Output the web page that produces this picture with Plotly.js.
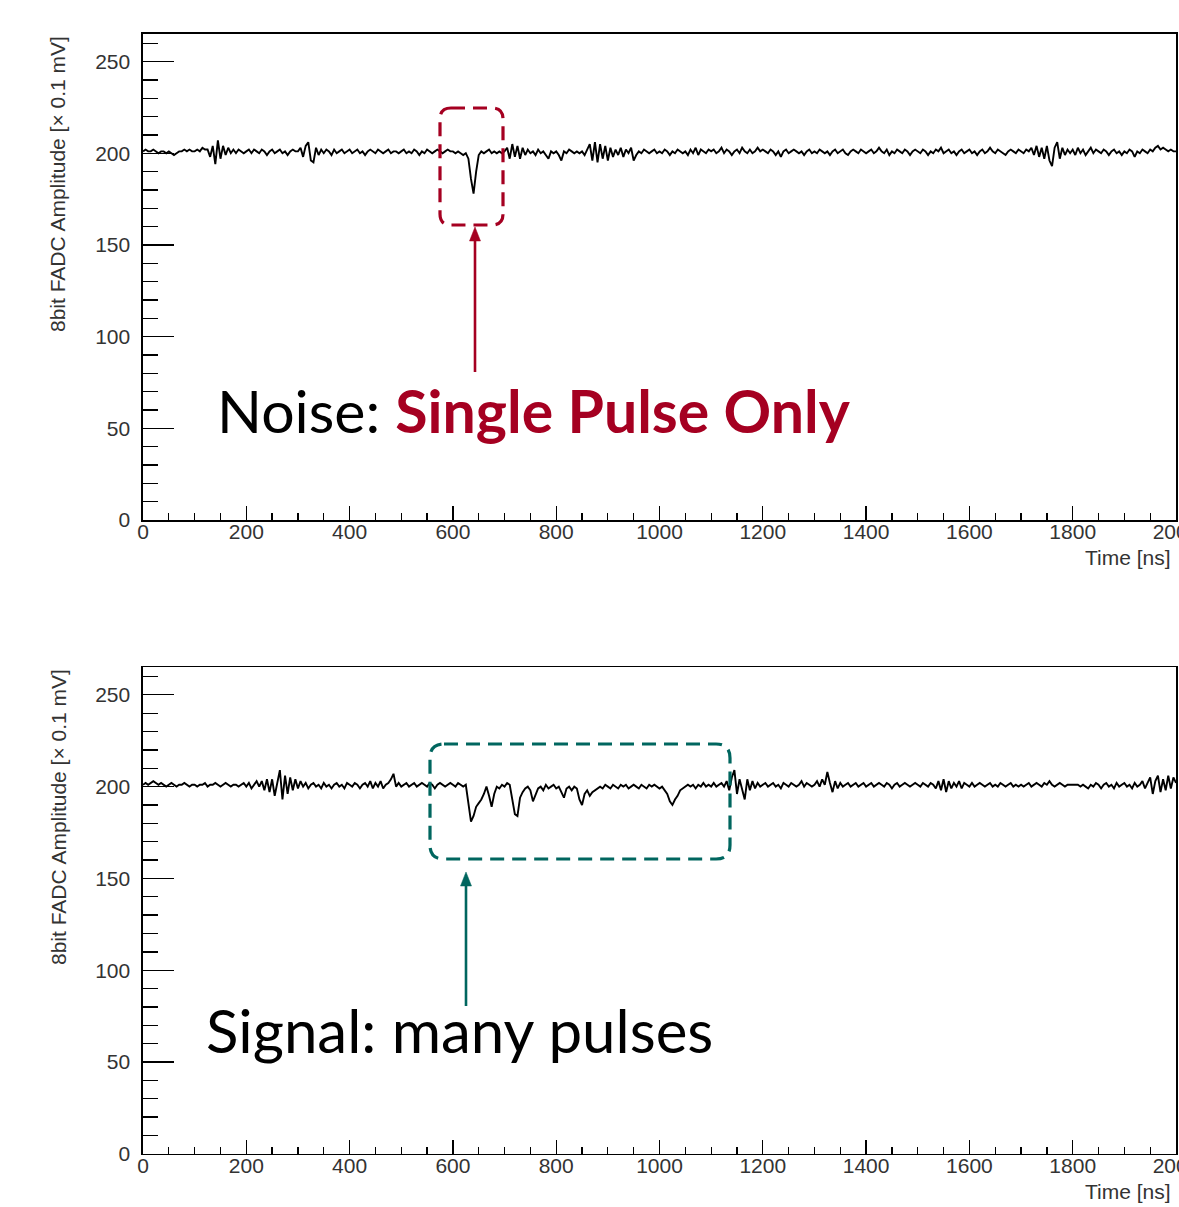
<!DOCTYPE html>
<html>
<head>
<meta charset="utf-8">
<script src="https://cdn.plot.ly/plotly-3.0.1.min.js"></script>
<style>html,body{margin:0;padding:0;background:#fff;}#chart{width:1179px;height:1207px;}</style>
</head>
<body>
<div id="chart"></div>
<script>
// ---------- DATA ----------
const SAMPLE_STEP_NS = 5;          // FADC sample spacing (ns)
// Top waveform: "Noise" event (8bit FADC amplitude, x0.1 mV), one sample every 5 ns from 0 to 2000 ns
const noiseAmp = [
 201,202,201,201,202,201,200,201,201,200,201,200,199,200,201,201,202,201,202,201,
 201,202,201,203,202,202,198,204,194,207,197,204,199,203,200,202,200,202,201,200,
 201,202,200,202,201,200,202,201,199,201,202,200,201,202,200,201,199,201,202,201,
 201,203,198,204,206,196,195,203,199,202,200,202,201,199,202,200,201,202,200,201,
 202,200,201,202,200,201,199,201,202,201,200,202,201,200,201,202,200,201,201,200,
 201,202,200,201,200,202,201,199,201,200,202,201,200,201,202,201,200,201,202,201,
 201,200,201,200,199,200,197,186,178,190,199,201,200,201,202,200,201,200,201,200,
 201,203,197,205,198,204,197,203,199,202,200,201,199,202,200,201,199,197,201,200,
 201,199,196,201,200,202,201,200,201,200,201,199,202,205,196,206,195,205,197,204,
 196,203,198,202,199,203,198,202,200,203,196,199,201,200,202,201,200,201,202,200,
 201,200,202,201,199,201,200,202,201,200,201,199,202,200,203,199,202,201,200,202,
 201,202,200,201,203,200,202,201,199,201,202,200,203,201,200,202,200,201,203,201,
 202,201,200,202,201,199,201,198,201,202,200,201,202,201,200,201,199,201,202,200,
 201,200,202,201,200,201,199,201,202,200,201,202,200,199,201,202,201,200,202,201,
 200,201,202,200,201,203,201,200,202,199,201,200,202,201,200,202,201,199,201,202,
 201,200,202,201,199,201,200,202,201,203,200,201,202,200,201,199,201,202,200,201,
 202,200,201,199,201,202,200,201,203,201,200,202,201,200,199,201,202,201,200,202,
 201,200,202,201,203,199,204,198,203,197,204,196,193,203,206,197,203,199,202,200,
 202,199,203,200,202,199,201,203,200,202,201,200,202,201,199,201,202,200,201,199,
 201,200,202,201,198,201,200,202,201,200,202,201,203,204,202,203,202,201,202,201,
 201
];
// Bottom waveform: "Signal" event
const signalAmp = [
 201,202,201,202,203,202,201,202,201,200,201,202,201,200,201,201,202,201,200,201,
 201,200,201,201,202,200,201,201,202,201,200,201,202,201,200,201,201,200,201,202,
 200,202,199,201,203,200,203,198,204,197,204,195,203,209,193,206,196,205,198,204,
 199,203,200,202,199,201,202,200,201,199,202,200,201,199,201,202,200,201,199,202,
 201,200,202,201,199,201,202,200,203,199,202,200,203,199,201,202,204,207,200,202,
 200,201,202,200,201,202,200,201,202,201,200,202,201,199,201,202,201,200,201,202,
 201,200,202,201,200,201,190,181,184,189,191,193,196,200,195,189,196,200,199,201,
 200,202,201,193,185,184,194,197,199,200,198,192,196,199,200,198,201,199,200,201,
 199,200,197,194,199,200,198,200,199,193,190,196,198,195,197,198,199,200,199,201,
 200,199,201,200,199,201,200,201,199,200,201,200,199,201,200,199,201,200,201,200,
 199,200,198,196,192,190,193,195,198,199,200,201,200,201,199,201,200,202,200,201,
 200,202,200,201,202,200,203,198,205,209,196,204,199,193,204,198,203,199,202,200,
 201,202,200,201,202,200,201,199,202,201,200,202,201,200,201,203,200,202,201,200,
 201,203,200,204,201,208,202,197,203,199,202,200,201,202,200,201,202,200,201,202,
 200,201,202,200,201,202,201,200,202,201,199,201,202,200,201,202,201,200,201,202,
 201,200,202,201,200,202,201,199,203,198,204,197,203,199,202,200,203,199,202,201,
 200,202,200,201,202,201,200,201,202,200,201,200,202,201,200,201,202,200,201,200,
 201,200,201,202,200,201,202,201,200,202,201,203,201,200,201,202,201,200,201,201,
 201,201,201,200,201,200,199,201,200,202,201,199,201,202,200,201,199,202,200,201,
 202,200,201,199,202,200,201,203,199,202,205,196,203,206,197,204,198,206,199,205,
 202
];
const xTitle = "Time [ns]";
const yTitle = "8bit FADC Amplitude [\u00d7 0.1 mV]";
const noiseLabel = "Noise: ";
const noiseHighlight = "Single Pulse Only";
const signalLabel = "Signal: many pulses";

const timeNs = noiseAmp.map((_, i) => i * SAMPLE_STEP_NS);

// ---------- LAYOUT HELPERS ----------
const W = 1179, H = 1207, ML = 143, MR = 3;
const PW = W - ML - MR;
const X = px => (px - ML) / PW;   // pixel -> paper x
const Y = py => 1 - py / H;       // pixel -> paper y

const RED = '#A50021';
const TEAL = '#00665F';
const tickFont = {family: 'Liberation Sans, Arial, Helvetica, sans-serif', size: 21, color: '#333'};

function xAxis(anchor) {
  return {
    anchor: anchor, domain: [0, 1], range: [0, 2000], tick0: 0, dtick: 200,
    ticks: 'inside', ticklen: 14, tickwidth: 1.3, tickcolor: '#000',
    showline: true, linecolor: '#000', linewidth: 1.6, mirror: true,
    showgrid: false, zeroline: false, tickfont: tickFont, ticklabelstandoff: -8,
    ticklabeloverflow: 'allow',
    minor: {dtick: 50, ticks: 'inside', ticklen: 7, tickwidth: 1.3, tickcolor: '#000', showgrid: false},
    fixedrange: true
  };
}
function yAxis(anchor, dom) {
  return {
    anchor: anchor, domain: dom, range: [0, 265], tick0: 0, dtick: 50,
    ticks: 'inside', ticklen: 31, tickwidth: 1.3, tickcolor: '#000',
    showline: true, linecolor: '#000', linewidth: 1.6, mirror: true,
    showgrid: false, zeroline: false, tickfont: tickFont, ticklabelstandoff: 7,
    minor: {dtick: 10, ticks: 'inside', ticklen: 15, tickwidth: 1.3, tickcolor: '#000', showgrid: false},
    fixedrange: true
  };
}

function roundRect(l, t, r, b, rad) {
  const p = (x, y) => X(x).toFixed(5) + ',' + Y(y).toFixed(5);
  return 'M' + p(l + rad, t) + ' L' + p(r - rad, t) + ' Q' + p(r, t) + ' ' + p(r, t + rad) +
         ' L' + p(r, b - rad) + ' Q' + p(r, b) + ' ' + p(r - rad, b) +
         ' L' + p(l + rad, b) + ' Q' + p(l, b) + ' ' + p(l, b - rad) +
         ' L' + p(l, t + rad) + ' Q' + p(l, t) + ' ' + p(l + rad, t) + ' Z';
}
function arrowHead(x, tipY, w, h) {
  const p = (a, b) => X(a).toFixed(5) + ',' + Y(b).toFixed(5);
  return 'M' + p(x, tipY) + ' L' + p(x - w / 2, tipY + h) + ' L' + p(x + w / 2, tipY + h) + ' Z';
}

const traces = [
  {x: timeNs, y: noiseAmp, xaxis: 'x', yaxis: 'y', type: 'scatter', mode: 'lines',
   line: {color: '#000', width: 1.9}, hoverinfo: 'skip'},
  {x: timeNs, y: signalAmp, xaxis: 'x2', yaxis: 'y2', type: 'scatter', mode: 'lines',
   line: {color: '#000', width: 1.9}, hoverinfo: 'skip'}
];

const layout = {
  width: W, height: H, margin: {l: ML, r: MR, t: 0, b: 0},
  paper_bgcolor: '#fff', plot_bgcolor: '#fff', showlegend: false,
  xaxis: xAxis('y'), yaxis: yAxis('x', [Y(520), Y(34)]),
  xaxis2: xAxis('y2'), yaxis2: yAxis('x2', [Y(1153.8), Y(667.3)]),
  shapes: [
    {type: 'path', xref: 'paper', yref: 'paper', path: roundRect(440, 108, 503, 225, 11),
     line: {color: RED, width: 3.2, dash: '14px,8px'}, fillcolor: 'rgba(0,0,0,0)', layer: 'above'},
    {type: 'line', xref: 'paper', yref: 'paper', x0: X(475), x1: X(475), y0: Y(372), y1: Y(238),
     line: {color: RED, width: 2.6}},
    {type: 'path', xref: 'paper', yref: 'paper', path: arrowHead(475, 227, 11, 14),
     line: {color: RED, width: 0.5}, fillcolor: RED},
    {type: 'path', xref: 'paper', yref: 'paper', path: roundRect(430, 744, 730, 859, 14),
     line: {color: TEAL, width: 3.2, dash: '14px,8px'}, fillcolor: 'rgba(0,0,0,0)', layer: 'above'},
    {type: 'line', xref: 'paper', yref: 'paper', x0: X(466), x1: X(466), y0: Y(1006), y1: Y(883),
     line: {color: TEAL, width: 2.6}},
    {type: 'path', xref: 'paper', yref: 'paper', path: arrowHead(466, 872, 11, 14),
     line: {color: TEAL, width: 0.5}, fillcolor: TEAL}
  ],
  annotations: [
    {xref: 'paper', yref: 'paper', x: X(1173), y: Y(544), xanchor: 'right', yanchor: 'top',
     text: xTitle, showarrow: false, font: tickFont},
    {xref: 'paper', yref: 'paper', x: X(1173), y: Y(1178), xanchor: 'right', yanchor: 'top',
     text: xTitle, showarrow: false, font: tickFont},
    {xref: 'paper', yref: 'paper', x: X(58), y: Y(34), xanchor: 'center', yanchor: 'top',
     text: yTitle, textangle: -90, showarrow: false, font: tickFont},
    {xref: 'paper', yref: 'paper', x: X(58), y: Y(667), xanchor: 'center', yanchor: 'top',
     text: yTitle, textangle: -90, showarrow: false, font: tickFont},
    {xref: 'paper', yref: 'paper', x: X(215), y: Y(410), xanchor: 'left', yanchor: 'middle',
     text: noiseLabel + '<b><span style="color:' + RED + '">' + noiseHighlight + '</span></b>',
     showarrow: false, font: {family: 'Lato, Open Sans, sans-serif', size: 59, color: '#000'}},
    {xref: 'paper', yref: 'paper', x: X(204), y: Y(1030), xanchor: 'left', yanchor: 'middle',
     text: signalLabel, showarrow: false,
     font: {family: 'Lato, Open Sans, sans-serif', size: 60, color: '#000'}}
  ]
};

Plotly.newPlot('chart', traces, layout, {staticPlot: true, displayModeBar: false});
</script>
</body>
</html>
